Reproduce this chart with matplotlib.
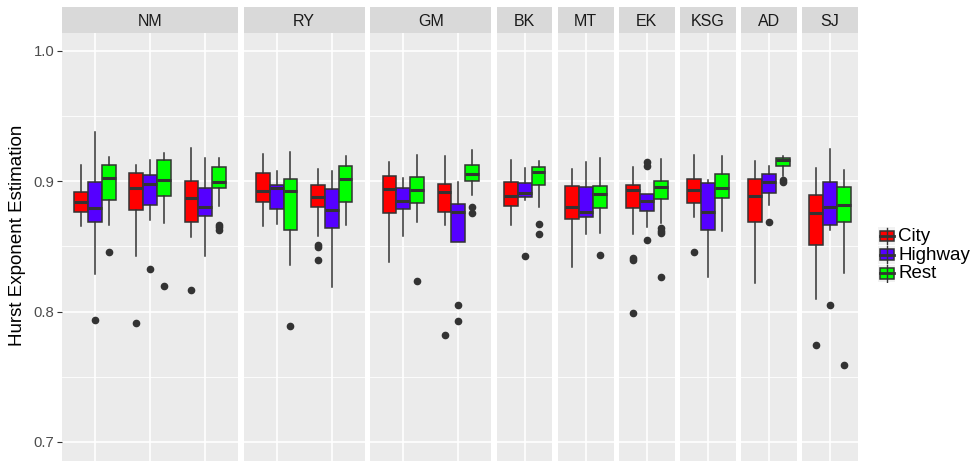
import matplotlib
matplotlib.use("Agg")
import matplotlib.pyplot as plt
from matplotlib.patches import Rectangle

plt.rcParams['font.family'] = ['Liberation Sans', 'DejaVu Sans']

# Datos (cada fila: un grupo, columnas: City, Highway, Rest)
facets = ['NM', 'RY', 'GM', 'BK', 'MT', 'EK', 'KSG', 'AD', 'SJ']
groups_per_facet = [3, 2, 2, 1, 1, 1, 1, 1, 1]
classes = ['City', 'Highway', 'Rest']
colors = ['#FF0000', '#5500FF', '#00FF00']

whislo = [[0.8656, 0.8286, 0.8663], [0.8429, 0.8702, 0.8679], [0.8571, 0.8429, 0.8814],
          [0.8656, 0.8673, 0.8355], [0.8584, 0.8191, 0.8666],
          [0.8383, 0.8579, 0.8689], [0.8663, 0.8533, 0.8895],
          [0.8663, 0.8855, 0.8801], [0.8344, 0.8594, 0.8605], [0.8597, 0.8648, 0.8681],
          [0.8724, 0.8263, 0.8615], [0.8219, 0.8816, 0.9038], [0.8100, 0.8630, 0.8293]]
q1 = [[0.8763, 0.8686, 0.8860], [0.8783, 0.8819, 0.8888], [0.8689, 0.8735, 0.8949],
      [0.8842, 0.8786, 0.8630], [0.8806, 0.8638, 0.8844],
      [0.8758, 0.8788, 0.8834], [0.8763, 0.8533, 0.9000],
      [0.8811, 0.8878, 0.8974], [0.8709, 0.8727, 0.8796], [0.8793, 0.8770, 0.8862],
      [0.8834, 0.8628, 0.8872], [0.8689, 0.8908, 0.9117], [0.8508, 0.8663, 0.8689]]
med = [[0.8844, 0.8793, 0.9026], [0.8952, 0.8982, 0.9008], [0.8875, 0.8804, 0.8995],
       [0.8926, 0.8949, 0.8923], [0.8880, 0.8781, 0.9018],
       [0.8939, 0.8847, 0.8936], [0.8916, 0.8763, 0.9054],
       [0.8890, 0.8908, 0.9074], [0.8806, 0.8763, 0.8906], [0.8934, 0.8847, 0.8954],
       [0.8931, 0.8768, 0.8946], [0.8890, 0.8997, 0.9166], [0.8755, 0.8806, 0.8819]]
q3 = [[0.8921, 0.8995, 0.9128], [0.9064, 0.9046, 0.9160], [0.9003, 0.8946, 0.9107],
      [0.9064, 0.8972, 0.9018], [0.8974, 0.8939, 0.9115],
      [0.9038, 0.8949, 0.9031], [0.8980, 0.8829, 0.9125],
      [0.8995, 0.8990, 0.9110], [0.8964, 0.8954, 0.8964], [0.8974, 0.8906, 0.9003],
      [0.9018, 0.8990, 0.9056], [0.9018, 0.9054, 0.9179], [0.8893, 0.8997, 0.8959]]
whishi = [[0.9128, 0.9380, 0.9190], [0.9122, 0.9160, 0.9217], [0.9255, 0.9179, 0.9179],
          [0.9209, 0.9082, 0.9224], [0.9094, 0.9077, 0.9191],
          [0.9145, 0.9028, 0.9204], [0.9196, 0.8997, 0.9237],
          [0.9166, 0.9099, 0.9156], [0.9092, 0.9148, 0.9176], [0.9107, 0.8906, 0.9171],
          [0.9204, 0.9013, 0.9191], [0.9153, 0.9120, 0.9191], [0.9102, 0.9247, 0.9087]]
outliers = [[[], [0.7934], [0.8454]],
            [[0.7916], [0.8329], [0.8199]],
            [[0.8163], [], [0.8666, 0.8648, 0.8628]],
            [[], [], [0.7888]],
            [[0.8515, 0.8495, 0.8398], [], []],
            [[], [], [0.8232]],
            [[0.7819], [0.8048, 0.7931], [0.8801, 0.8758]],
            [[], [0.8429], [0.8673, 0.8592]],
            [[], [], [0.8431]],
            [[0.8413, 0.8393, 0.7992], [0.9145, 0.9115, 0.8548], [0.8643, 0.8622, 0.8605, 0.8268]],
            [[0.8459], [], []],
            [[], [0.8689], [0.9008, 0.8997]],
            [[0.7747], [0.8048], [0.7592]]]

yticks = [0.7, 0.8, 0.9, 1.0]
yminor = [0.75, 0.85, 0.95]

W, H = 975, 461
fig = plt.figure(figsize=(W / 100, H / 100), dpi=100)

# Geometria de los paneles (en pixeles)
x0, gap, unit, single_w = 62.0, 5.3, 55.1, 55.8
top_px, strip_top = 33.0, 7.0
edge = '#333333'

row = 0
for f, name in enumerate(facets):
    n = groups_per_facet[f]
    w = unit * (n + 0.2) if n > 1 else single_w
    ax = fig.add_axes([x0 / W, 0, w / W, (H - top_px) / H])
    ax.set_facecolor('#EBEBEB')
    for s in ax.spines.values():
        s.set_visible(False)

    for yv in yminor:
        ax.axhline(yv, color='white', lw=0.6, zorder=0)
    for yv in yticks:
        ax.axhline(yv, color='white', lw=1.2, zorder=0)
    for g in range(n):
        ax.axvline(g + 1, color='white', lw=1.2, zorder=0)

    for g in range(n):
        for c in range(3):
            st = [{'whislo': whislo[row][c], 'q1': q1[row][c], 'med': med[row][c],
                   'q3': q3[row][c], 'whishi': whishi[row][c], 'fliers': outliers[row][c]}]
            ax.bxp(st, positions=[g + 1 + (c - 1) * 0.25], widths=0.25,
                   patch_artist=True, showcaps=False, manage_ticks=False,
                   boxprops=dict(facecolor=colors[c], edgecolor=edge, lw=1.1),
                   medianprops=dict(color=edge, lw=2.2),
                   whiskerprops=dict(color=edge, lw=1.1),
                   flierprops=dict(marker='o', markersize=4.5, markerfacecolor=edge,
                                   markeredgecolor=edge))
        row += 1

    if n > 1:
        ax.set_xlim(0.4, n + 0.6)
    else:
        ax.set_xlim(0.5, 1.5)
    ax.set_ylim(0.6854, 1.0138)
    ax.set_xticks([])
    ax.set_yticks(yticks)
    if f == 0:
        ax.set_yticklabels(['0.7', '0.8', '0.9', '1.0'], fontsize=10.7, color='#4D4D4D')
        ax.tick_params(axis='y', length=3.5, width=0.8, color='#333333', pad=2)
    else:
        ax.set_yticklabels([])
        ax.tick_params(axis='y', length=0)

    # franja con el nombre del panel
    sx = fig.add_axes([x0 / W, 1 - top_px / H, w / W, (top_px - strip_top) / H])
    sx.set_facecolor('#D9D9D9')
    sx.set_xticks([])
    sx.set_yticks([])
    for s in sx.spines.values():
        s.set_visible(False)
    sx.text(0.5, 0.45, name, ha='center', va='center', fontsize=11.5, color='#1A1A1A')

    x0 += w + gap

fig.text(18 / W, 1 - 235 / H, 'Hurst Exponent Estimation', rotation=90,
         ha='center', va='center', fontsize=13.5, color='black')

# Leyenda
lg = fig.add_axes([877 / W, 1 - 283 / H, 98 / W, 56 / H])
lg.set_xlim(0, 98)
lg.set_ylim(56, 0)
lg.axis('off')
for c in range(3):
    y = c * 18.5
    lg.add_patch(Rectangle((1, y + 0.5), 17, 17.5, facecolor='#F2F2F2', edgecolor='none'))
    lg.plot([9.5, 9.5], [y + 1, y + 17.5], color=edge, lw=1.0)
    lg.add_patch(Rectangle((2.5, y + 4), 14, 10.5, facecolor=colors[c], edgecolor=edge, lw=1.1))
    lg.plot([2.5, 16.5], [y + 9.25, y + 9.25], color=edge, lw=2.0)
    lg.text(21, y + 9.5, classes[c], ha='left', va='center', fontsize=13.5, color='black')

fig.savefig('out.png', dpi=100)
